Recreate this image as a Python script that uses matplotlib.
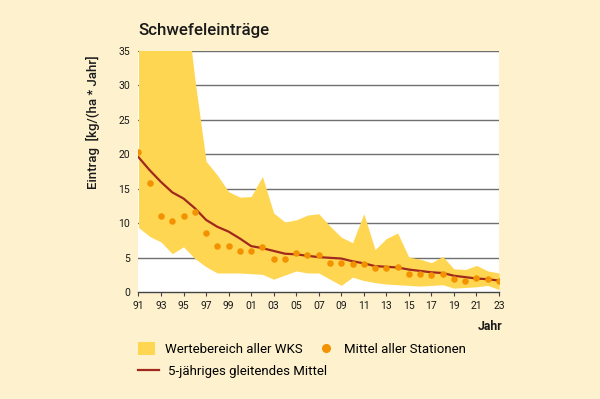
import matplotlib
matplotlib.use("Agg")
import matplotlib.pyplot as plt
from matplotlib.patches import Patch
from matplotlib.lines import Line2D

# data
years = list(range(1991, 2024))
tick_labels = ["91", "93", "95", "97", "99", "01", "03", "05", "07", "09",
               "11", "13", "15", "17", "19", "21", "23"]
range_upper = [40, 42, 45, 48, 45, 31, 19.0, 17.0, 14.6, 13.8, 13.9, 16.8,
               11.5, 10.2, 10.5, 11.2, 11.4, 9.6, 8.0, 7.2, 11.4, 6.2, 7.8,
               8.6, 5.1, 4.8, 4.3, 5.2, 3.4, 3.3, 3.9, 3.1, 2.8]
range_lower = [9.4, 8.1, 7.3, 5.6, 6.6, 4.9, 3.7, 2.8, 2.8, 2.8, 2.7, 2.6,
               1.9, 2.5, 3.1, 2.8, 2.8, 1.9, 1.0, 2.2, 1.7, 1.4, 1.2, 1.1,
               1.0, 0.9, 1.0, 1.1, 0.6, 0.7, 0.8, 1.0, 0.4]
station_mean = [20.4, 15.9, 11.1, 10.3, 11.0, 11.7, 8.6, 6.7, 6.7, 6.0, 6.0,
                6.5, 4.9, 4.9, 5.7, 5.4, 5.4, 4.3, 4.2, 4.1, 4.1, 3.5, 3.5,
                3.6, 2.7, 2.6, 2.5, 2.6, 2.0, 1.6, 2.1, 2.0, 1.7]
moving_avg = [19.6, 17.7, 16.0, 14.5, 13.6, 12.2, 10.5, 9.5, 8.8, 7.8, 6.7,
              6.4, 6.0, 5.6, 5.5, 5.3, 5.1, 5.0, 4.9, 4.5, 4.2, 3.8, 3.7,
              3.6, 3.3, 3.1, 2.9, 2.8, 2.4, 2.2, 2.0, 1.9, 1.7]

bg = "#FEF1CD"
band = "#FFD652"
dot = "#F39200"
line = "#A0281E"
ink = "#1a1a1a"

plt.rcParams["font.family"] = ["Roboto", "DejaVu Sans"]

fig = plt.figure(figsize=(6.0, 3.99), dpi=100, facecolor=bg)
ax = fig.add_axes([0.2308, 0.2674, 0.6009, 0.6048])
ax.set_facecolor("white")

ax.fill_between(years, range_lower, range_upper, color=band, linewidth=0, zorder=2)
ax.plot(years, moving_avg, color=line, linewidth=1.6, zorder=3)
ax.scatter(years, station_mean, s=22, color=dot, linewidths=0, zorder=4)

ax.set_xlim(1991, 2023)
ax.set_ylim(0, 35)
for v in range(5, 40, 5):
    ax.axhline(v, color="#6F6F6F", linewidth=1.0, zorder=1)

ax.set_yticks(range(0, 40, 5))
ax.set_xticks(years[::2])
ax.set_xticklabels(tick_labels)
ax.tick_params(axis="y", length=0, labelsize=7.5, pad=6, colors=ink)
ax.tick_params(axis="x", length=3, width=0.8, color="#444444", labelsize=7.5,
               pad=3, colors=ink)
for side in ["top", "right", "left"]:
    ax.spines[side].set_visible(False)
ax.spines["bottom"].set_color("#444444")
ax.spines["bottom"].set_linewidth(1.0)
ax.spines["bottom"].set_zorder(5)

fig.text(138 / 600, 1 - 31 / 399, "Schwefeleinträge", fontsize=12.2,
         fontweight="medium", va="center", ha="left", color=ink)
fig.text(93 / 600, 1 - 122 / 399, "Eintrag  [kg/(ha * Jahr]", rotation=90,
         fontsize=9.5, fontweight="medium", va="center", ha="center",
         color=ink)
fig.text(502 / 600, 1 - 326 / 399, "Jahr", fontsize=8.8, fontweight="bold",
         va="center", ha="right", color=ink)

handles = [Patch(facecolor=band, edgecolor="none"),
           Line2D([], [], marker="o", linestyle="none", color=dot, markersize=5.5)]
fig.legend(handles, ["Wertebereich aller WKS", "Mittel aller Stationen"],
           loc="center left", bbox_to_anchor=(138 / 600, 1 - 349 / 399),
           ncol=2, frameon=False, fontsize=9.5, handlelength=1.3,
           handleheight=1.2, columnspacing=1.1, handletextpad=0.75,
           borderpad=0, borderaxespad=0)
fig.legend([Line2D([], [], color=line, linewidth=1.6)],
           ["5-jähriges gleitendes Mittel"],
           loc="center left", bbox_to_anchor=(138 / 600, 1 - 371 / 399),
           frameon=False, fontsize=9.5, handlelength=1.6, handletextpad=0.65,
           borderpad=0, borderaxespad=0)

fig.savefig("out.png", dpi=100, facecolor=bg)
